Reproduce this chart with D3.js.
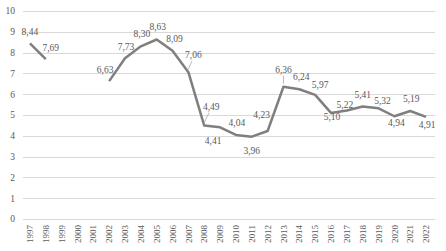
<!DOCTYPE html>
<html>
<head>
<meta charset="utf-8">
<script src="https://cdn.jsdelivr.net/npm/d3@7"></script>
<style>
  body { margin: 0; background: #fff; }
  text { font-family: "Liberation Serif", "DejaVu Serif", serif; fill: #595959; }
</style>
</head>
<body>
<script>
var years = [1997, 1998, 1999, 2000, 2001, 2002, 2003, 2004, 2005, 2006, 2007, 2008, 2009,
             2010, 2011, 2012, 2013, 2014, 2015, 2016, 2017, 2018, 2019, 2020, 2021, 2022];
var values = [8.44, 7.69, null, null, null, 6.63, 7.73, 8.30, 8.63, 8.09, 7.06, 4.49, 4.41,
              4.04, 3.96, 4.23, 6.36, 6.24, 5.97, 5.10, 5.22, 5.41, 5.32, 4.94, 5.19, 4.91];
var yTicks = [0, 1, 2, 3, 4, 5, 6, 7, 8, 9, 10];

// label placement: [dx, dy, leader]
var labelPos = {
  1997: [0, -12], 1998: [5, -11], 2002: [-4, -11], 2003: [1, -12], 2004: [1, -13],
  2005: [1, -13], 2006: [2, -12], 2007: [5, -17, 1], 2008: [7, -19, 1], 2009: [-7, 13],
  2010: [1, -12], 2011: [0, 14], 2012: [-6, -16], 2013: [0, -17, 1], 2014: [2, -13],
  2015: [5, -10], 2016: [1, 4], 2017: [-2, -6], 2018: [0, -12], 2019: [4, -8],
  2020: [2, 6], 2021: [1, -12], 2022: [1, 8]
};

var width = 446, height = 251;
var data = years.map(function(y, i) { return {year: y, v: values[i]}; });

var svg = d3.select("body").append("svg")
  .attr("width", width)
  .attr("height", height);

var x = d3.scaleBand()
  .domain(years)
  .range([22, 434]);
var y = d3.scaleLinear()
  .domain([0, 10])
  .range([219, 11]);

// gridlines
svg.append("g")
  .selectAll("line")
  .data(yTicks)
  .enter().append("line")
    .attr("x1", 23)
    .attr("x2", 435)
    .attr("y1", function(d) { return Math.round(y(d)) + 0.5; })
    .attr("y2", function(d) { return Math.round(y(d)) + 0.5; })
    .attr("stroke", "#d9d9d9")
    .attr("stroke-width", 1);

// y labels
svg.append("g")
  .selectAll("text")
  .data(yTicks)
  .enter().append("text")
    .attr("x", 15)
    .attr("y", function(d) { return y(d); })
    .attr("dy", "0.35em")
    .attr("text-anchor", "end")
    .attr("font-size", 9.5)
    .text(function(d) { return d; });

// x labels (rotated)
svg.append("g")
  .selectAll("text")
  .data(years)
  .enter().append("text")
    .attr("transform", function(d) {
      return "translate(" + (x(d) + x.bandwidth() / 2) + ",225) rotate(-90)";
    })
    .attr("dy", "0.35em")
    .attr("text-anchor", "end")
    .attr("font-size", 9)
    .text(function(d) { return d; });

var line = d3.line()
  .defined(function(d) { return d.v != null; })
  .x(function(d) { return x(d.year) + x.bandwidth() / 2; })
  .y(function(d) { return y(d.v); });

svg.append("path")
  .datum(data)
  .attr("d", line)
  .attr("fill", "none")
  .attr("stroke", "#7f7f7f")
  .attr("stroke-width", 2.5)
  .attr("stroke-linejoin", "round");

var pts = data.filter(function(d) { return d.v != null; });
var fmt = function(v) { return v.toFixed(2).replace(".", ","); };

// leader lines
svg.append("g")
  .selectAll("line")
  .data(pts.filter(function(d) { return labelPos[d.year][2]; }))
  .enter().append("line")
    .attr("x1", function(d) { return x(d.year) + x.bandwidth() / 2; })
    .attr("y1", function(d) { return y(d.v) - 3; })
    .attr("x2", function(d) { return x(d.year) + x.bandwidth() / 2 + labelPos[d.year][0] * 0.7; })
    .attr("y2", function(d) { return y(d.v) + labelPos[d.year][1] + 6; })
    .attr("stroke", "#a6a6a6")
    .attr("stroke-width", 0.8);

svg.append("g")
  .selectAll("text")
  .data(pts)
  .enter().append("text")
    .attr("x", function(d) { return x(d.year) + x.bandwidth() / 2 + labelPos[d.year][0]; })
    .attr("y", function(d) { return y(d.v) + labelPos[d.year][1]; })
    .attr("dy", "0.35em")
    .attr("text-anchor", "middle")
    .attr("font-size", 9.5)
    .text(function(d) { return fmt(d.v); });
</script>
</body>
</html>
